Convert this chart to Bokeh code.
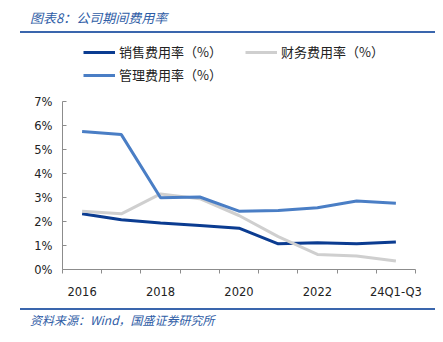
from bokeh.plotting import figure
from bokeh.models import (Range1d, FixedTicker, PrintfTickFormatter, Legend, LegendItem,
                          LinearAxis, Div)
from bokeh.layouts import column
from bokeh.embed import file_html
from bokeh.resources import INLINE

categories = ["2016", "2017", "2018", "2019", "2020", "2021", "2022", "2023", "24Q1-Q3"]
tick_labels = ["2016", "", "2018", "", "2020", "", "2022", "", "24Q1-Q3"]
sales_rate = [2.32, 2.07, 1.94, 1.83, 1.72, 1.07, 1.11, 1.07, 1.15]
finance_rate = [2.43, 2.32, 3.15, 2.95, 2.25, 1.37, 0.63, 0.56, 0.35]
admin_rate = [5.75, 5.62, 2.99, 3.02, 2.43, 2.46, 2.57, 2.85, 2.76]
y_ticks = [0, 1, 2, 3, 4, 5, 6, 7]
title_text = "图表8：公司期间费用率"
source_text = "资料来源：Wind，国盛证券研究所"

xs = [i + 0.5 for i in range(len(categories))]

W = 443
TOP_H = 34          # header div height
BOT_H = 34          # footer div height
FIG_H = 342 - TOP_H - BOT_H
AXIS_TOP_PX = 101 - TOP_H     # pixel row of 7% inside figure
AXIS_BOT_PX = 269 - TOP_H     # pixel row of 0% inside figure
FL, FR = 62, 415
y_max = 7.0
px_per_unit = (AXIS_BOT_PX - AXIS_TOP_PX) / y_max
y_end = y_max + AXIS_TOP_PX / px_per_unit   # frame extends to the figure top (room for legend)

BLUE_TXT = "#2f5da6"
RULE = "#3a66ad"

header = Div(text=(
    f'<div style="position:relative;width:{W}px;height:{TOP_H}px;">'
    f'<div style="position:absolute;left:30px;top:9px;font-family:\'Noto Sans CJK SC\';'
    f'font-size:13px;font-style:italic;color:{BLUE_TXT};line-height:18px;white-space:nowrap;">{title_text}</div>'
    f'<div style="position:absolute;left:20px;top:31px;width:415px;height:2px;background:{RULE};"></div>'
    f'</div>'), width=W, height=TOP_H, margin=0)

footer = Div(text=(
    f'<div style="position:relative;width:{W}px;height:{BOT_H}px;">'
    f'<div style="position:absolute;left:20px;top:0px;width:415px;height:1.5px;background:{RULE};"></div>'
    f'<div style="position:absolute;left:30px;top:4px;font-family:\'Noto Sans CJK SC\';'
    f'font-size:12px;font-style:italic;color:{BLUE_TXT};line-height:16px;white-space:nowrap;">{source_text}</div>'
    f'</div>'), width=W, height=BOT_H, margin=0)

p = figure(width=W, height=FIG_H, output_backend="svg", toolbar_location=None,
           x_range=Range1d(0, len(categories)), y_range=Range1d(0, y_end),
           min_border_left=FL, min_border_right=W - FR, min_border_top=0,
           min_border_bottom=FIG_H - AXIS_BOT_PX,
           x_axis_type=None, y_axis_type=None, margin=0)
p.outline_line_color = None
p.xgrid.grid_line_color = None
p.ygrid.grid_line_color = None

AX = "#8c8c8c"
num_font = "DejaVu Sans"

xaxis = LinearAxis(ticker=FixedTicker(ticks=xs, minor_ticks=list(range(len(categories) + 1))),
                   major_label_overrides={x: t for x, t in zip(xs, tick_labels)})
xaxis.axis_line_color = AX
xaxis.major_tick_line_color = None
xaxis.minor_tick_line_color = AX
xaxis.minor_tick_out = 4
xaxis.minor_tick_in = 0
xaxis.major_label_text_font = num_font
xaxis.major_label_text_font_size = "11.5px"
xaxis.major_label_text_color = "#222222"
xaxis.major_label_standoff = 9
p.add_layout(xaxis, "below")

yaxis = LinearAxis(ticker=FixedTicker(ticks=y_ticks), formatter=PrintfTickFormatter(format="%d%%"),
                   bounds=(0, y_max))
yaxis.axis_line_color = AX
yaxis.major_tick_line_color = AX
yaxis.major_tick_in = 4
yaxis.major_tick_out = 0
yaxis.minor_tick_line_color = None
yaxis.major_label_text_font = num_font
yaxis.major_label_text_font_size = "11.5px"
yaxis.major_label_text_color = "#222222"
yaxis.major_label_standoff = 10
p.add_layout(yaxis, "left")

r_sales = p.line(xs, sales_rate, line_color="#0b3c91", line_width=3)
r_fin = p.line(xs, finance_rate, line_color="#cfcfcf", line_width=3)
r_admin = p.line(xs, admin_rate, line_color="#4a7ec5", line_width=3)

legend = Legend(items=[LegendItem(label="销售费用率（%）", renderers=[r_sales]),
                       LegendItem(label="财务费用率（%）", renderers=[r_fin]),
                       LegendItem(label="管理费用率（%）", renderers=[r_admin])],
                location=(21, AXIS_BOT_PX - (84 - TOP_H)), orientation="horizontal", ncols=2)
legend.label_text_font = "Noto Sans CJK SC"
legend.label_text_font_size = "13px"
legend.label_text_color = "#222222"
legend.glyph_width = 32
legend.glyph_height = 16
legend.label_height = 16
legend.label_width = 122
legend.label_standoff = 4
legend.spacing = 4
legend.padding = 0
legend.margin = 0
legend.border_line_color = None
legend.background_fill_alpha = 0
p.add_layout(legend, "center")

layout = column(header, p, footer, spacing=0, margin=0)
open("out.html", "w").write(file_html(layout, INLINE))
